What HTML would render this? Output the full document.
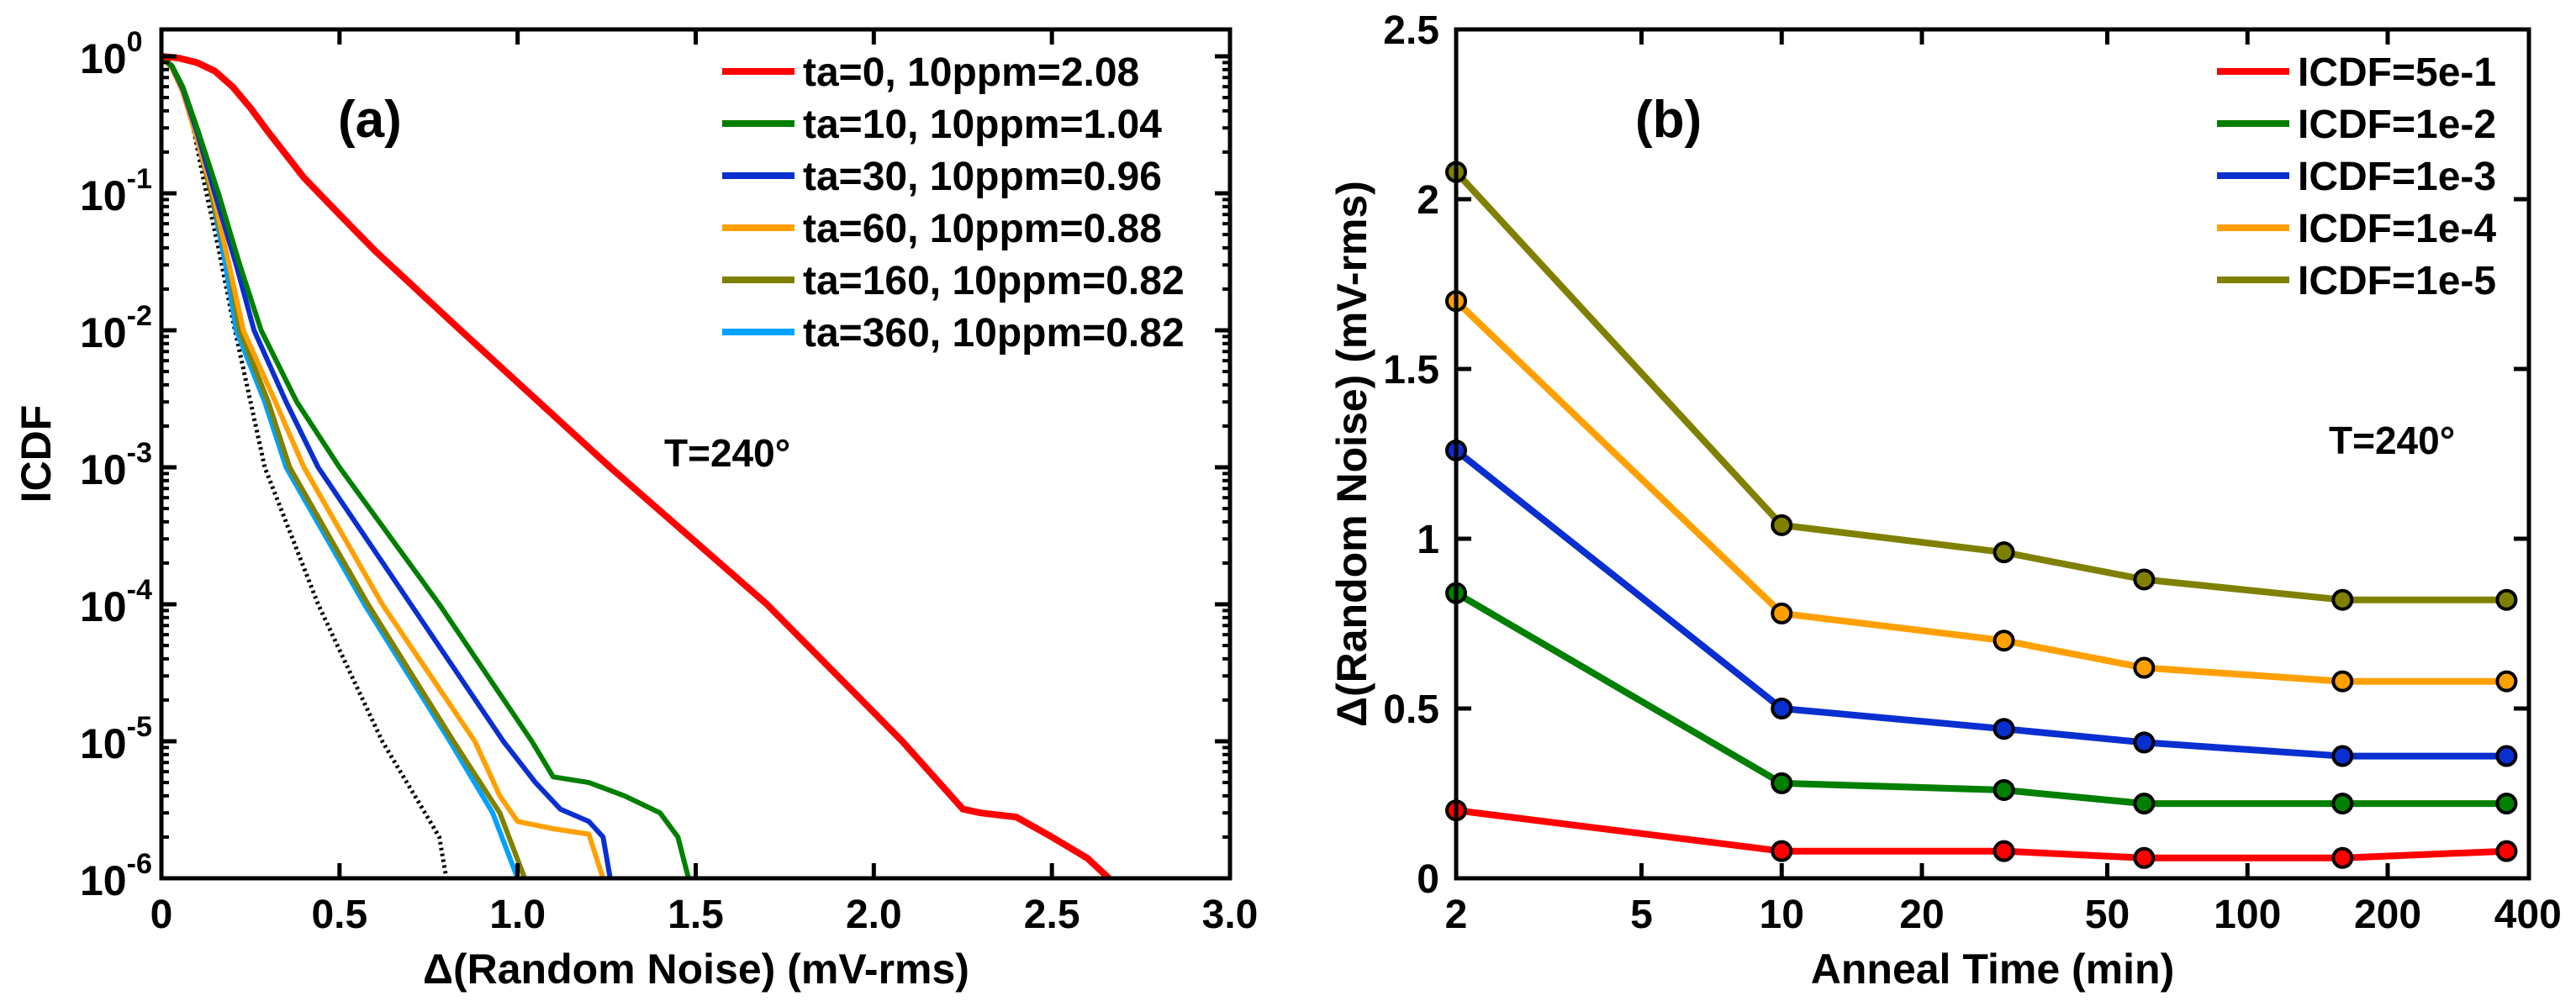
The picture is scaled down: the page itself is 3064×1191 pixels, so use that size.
<!DOCTYPE html>
<html><head><meta charset="utf-8">
<style>
html,body{margin:0;padding:0;background:#fff;}
svg{display:block;font-family:"Liberation Sans",Arial,sans-serif;font-weight:bold;}
</style></head>
<body>
<svg id="fig" width="3064" height="1191" viewBox="0 0 3064 1191" xmlns="http://www.w3.org/2000/svg"></svg>
<script>
// ---------- Panel (a) data ----------
const aLabels = ["ta=0, 10ppm=2.08","ta=10, 10ppm=1.04","ta=30, 10ppm=0.96","ta=60, 10ppm=0.88","ta=160, 10ppm=0.82","ta=360, 10ppm=0.82"];
const aColors = ["#ff0000","#007f00","#0a2fd0","#ffa000","#808000","#00a2ff"];
const curveTa0 = [[0,1],[0.05,0.97],[0.1,0.9],[0.15,0.78],[0.2,0.6],[0.25,0.42],[0.3,0.28],[0.4,0.13],[0.5,0.07],[0.6,0.038],[0.84,0.01],[1.26,1e-3],[1.7,1e-4],[2.08,1e-5],[2.25,3.2e-6],[2.3,3e-6],[2.4,2.8e-6],[2.5,2e-6],[2.6,1.4e-6],[2.66,1e-6]];
const curveTa10 = [[0,1],[0.03,0.85],[0.06,0.6],[0.1,0.3],[0.16,0.1],[0.22,0.03],[0.28,0.01],[0.38,0.003],[0.5,1e-3],[0.78,1e-4],[1.04,1e-5],[1.1,5.5e-6],[1.2,5e-6],[1.3,4e-6],[1.4,3e-6],[1.45,2e-6],[1.48,1e-6]];
const curveTa30 = [[0,1],[0.03,0.84],[0.06,0.58],[0.1,0.28],[0.15,0.1],[0.21,0.03],[0.26,0.01],[0.35,0.003],[0.44,1e-3],[0.70,1e-4],[0.96,1e-5],[1.05,5e-6],[1.12,3.2e-6],[1.2,2.6e-6],[1.24,2e-6],[1.26,1e-6]];
const curveTa60 = [[0,1],[0.03,0.82],[0.06,0.55],[0.1,0.25],[0.145,0.1],[0.19,0.03],[0.23,0.01],[0.32,0.003],[0.40,1e-3],[0.62,1e-4],[0.88,1e-5],[0.95,4e-6],[1.0,2.6e-6],[1.1,2.3e-6],[1.2,2.1e-6],[1.24,1e-6]];
const curveTa160 = [[0,1],[0.03,0.82],[0.06,0.55],[0.1,0.25],[0.14,0.1],[0.19,0.03],[0.22,0.01],[0.3,0.003],[0.36,1e-3],[0.58,1e-4],[0.82,1e-5],[0.95,3e-6],[1.02,1e-6]];
const curveTa360 = [[0,1],[0.03,0.82],[0.06,0.55],[0.1,0.25],[0.14,0.1],[0.18,0.03],[0.21,0.01],[0.29,0.003],[0.35,1e-3],[0.57,1e-4],[0.81,1e-5],[0.93,3e-6],[1.0,1e-6]];
const curveRef = [[0,1],[0.04,0.75],[0.08,0.4],[0.12,0.12],[0.16,0.04],[0.2,0.012],[0.29,1e-3],[0.44,1e-4],[0.62,1e-5],[0.74,3e-6],[0.78,2e-6],[0.8,1e-6]];
const aXTicks = [0,0.5,1.0,1.5,2.0,2.5,3.0];
const aXTickLabels = ["0","0.5","1.0","1.5","2.0","2.5","3.0"];
const aYExps = [0,-1,-2,-3,-4,-5,-6];

// ---------- Panel (b) data ----------
const bTimes = [2,10,30,60,160,360];
const bLabels = ["ICDF=5e-1","ICDF=1e-2","ICDF=1e-3","ICDF=1e-4","ICDF=1e-5"];
const bColors = ["#ff0000","#007f00","#0a2fd0","#ffa000","#808000"];
const s5e1 = [0.20,0.08,0.08,0.06,0.06,0.08];
const s1e2 = [0.84,0.28,0.26,0.22,0.22,0.22];
const s1e3 = [1.26,0.50,0.44,0.40,0.36,0.36];
const s1e4 = [1.70,0.78,0.70,0.62,0.58,0.58];
const s1e5 = [2.08,1.04,0.96,0.88,0.82,0.82];
const bXTicks = [2,5,10,20,50,100,200,400];
const bYTicks = [0,0.5,1,1.5,2,2.5];
const bYTickLabels = ["0","0.5","1","1.5","2","2.5"];

const NS="http://www.w3.org/2000/svg";
const svg=document.getElementById('fig');
function mk(tag,attrs,parent){const e=document.createElementNS(NS,tag);for(const k in attrs)e.setAttribute(k,attrs[k]);(parent||svg).appendChild(e);return e;}

// ----- Panel (a) axes -----
const AL=192,AR=1463,AT=35,AB=1045;
const Y0=67, DEC=163;
function ax(v){return AL+(v/3.0)*(AR-AL);}
function ay(p){return Y0-Math.log10(p)*DEC;}
const gA=mk('g',{});


mk('clipPath',{id:'clipA'},gA);
mk('rect',{x:AL,y:AT,width:AR-AL,height:AB-AT},gA.lastChild);
const curves=[curveTa0,curveTa10,curveTa30,curveTa60,curveTa160,curveTa360];
const curveNames=['curve-ta0','curve-ta10','curve-ta30','curve-ta60','curve-ta160','curve-ta360'];
{
 const d=curveRef.map((p,i)=>(i?'L':'M')+ax(p[0]).toFixed(1)+','+ay(p[1]).toFixed(1)).join('');
 const el=mk('path',{d:d,fill:'none',stroke:'#000','stroke-width':5,'stroke-dasharray':'3,4','clip-path':'url(#clipA)'},gA);
 
 
}
for(let s=curves.length-1;s>=0;s--){
 const d=curves[s].map((p,i)=>(i?'L':'M')+ax(p[0]).toFixed(1)+','+ay(p[1]).toFixed(1)).join('');
 const el=mk('path',{d:d,fill:'none',stroke:aColors[s],'stroke-width':s==0?8:6,'stroke-linejoin':'round','clip-path':'url(#clipA)'},gA);
 
 
}
{const fr=mk('rect',{x:AL,y:AT,width:AR-AL,height:AB-AT,fill:'none',stroke:'#000','stroke-width':5},gA);

}
aXTicks.forEach((v,i)=>{
 const x=ax(v);
 mk('line',{x1:x,y1:AB,x2:x,y2:AB-18,stroke:'#000','stroke-width':5},gA);
 mk('line',{x1:x,y1:AT,x2:x,y2:AT+18,stroke:'#000','stroke-width':5},gA);
 const t=mk('text',{x:x,y:1104,'font-size':48,'text-anchor':'middle'},gA);
 t.textContent=aXTickLabels[i];
 
 
});
aYExps.forEach(e=>{
 const y=ay(Math.pow(10,e));
 mk('line',{x1:AL,y1:y,x2:AL+18,y2:y,stroke:'#000','stroke-width':5},gA);
 mk('line',{x1:AR,y1:y,x2:AR-18,y2:y,stroke:'#000','stroke-width':5},gA);
 if(e>-6){for(let m=2;m<=9;m++){const ym=ay(m*Math.pow(10,e-1));
  mk('line',{x1:AL,y1:ym,x2:AL+9,y2:ym,stroke:'#000','stroke-width':4},gA);
  mk('line',{x1:AR,y1:ym,x2:AR-9,y2:ym,stroke:'#000','stroke-width':4},gA);}}
 if(e==0){for(let m=2;m<=9;m++){const ym=ay(m);if(ym>AT){mk('line',{x1:AL,y1:ym,x2:AL+9,y2:ym,stroke:'#000','stroke-width':4},gA);}}}
 const t=mk('text',{x:95,y:y+20,'font-size':50},gA);
 
 
 t.appendChild(document.createTextNode('10'));
 const sp=mk('tspan',{dy:-26,'font-size':34},t);
 sp.textContent=String(e);
});
{const t=mk('text',{x:0,y:0,'font-size':50,'text-anchor':'middle',transform:'translate(60,540) rotate(-90)'},gA);
t.textContent='ICDF';

}
{const t=mk('text',{x:828,y:1170,'font-size':50,'text-anchor':'middle'},gA);
t.textContent='\u0394(Random Noise) (mV-rms)';

}
{const t=mk('text',{x:402,y:163,'font-size':62},gA);
t.textContent='(a)';

}
{const t=mk('text',{x:790,y:555,'font-size':46},gA);
t.textContent='T=240\u00b0';

}
aLabels.forEach((lab,i)=>{
 const y=85+i*62;
 const g=mk('g',{},gA);
 
 
 mk('line',{x1:859,y1:y,x2:945,y2:y,stroke:aColors[i],'stroke-width':8},g);
 const t=mk('text',{x:955,y:y+17,'font-size':48},g);
 t.textContent=lab;
});

// ----- Panel (b) -----
const BL=1732,BR=3008,BT=35,BB=1045;
const DECB=554;
function bx(t){return BL+Math.log10(t/2)*DECB;}
function by(v){return BB-v*404;}
const gB=mk('g',{});


const series=[s5e1,s1e2,s1e3,s1e4,s1e5];
const seriesNames=['series-5e-1','series-1e-2','series-1e-3','series-1e-4','series-1e-5'];
series.forEach((vals,s)=>{
 const d=vals.map((v,i)=>(i?'L':'M')+bx(bTimes[i]).toFixed(1)+','+by(v).toFixed(1)).join('');
 const el=mk('path',{d:d,fill:'none',stroke:bColors[s],'stroke-width':8,'stroke-linejoin':'round'},gB);
 
 
});
series.forEach((vals,s)=>{
 vals.forEach((v,i)=>{
  const c=mk('circle',{cx:bx(bTimes[i]),cy:by(v),r:11,fill:bColors[s],stroke:'#000','stroke-width':4},gB);
  
  
 });
});
{const fr=mk('rect',{x:BL,y:BT,width:BR-BL,height:BB-BT,fill:'none',stroke:'#000','stroke-width':5},gB);

}
bXTicks.forEach(v=>{
 const x=bx(v);
 if(v!=2&&v!=400){
 mk('line',{x1:x,y1:BB,x2:x,y2:BB-18,stroke:'#000','stroke-width':5},gB);
 mk('line',{x1:x,y1:BT,x2:x,y2:BT+18,stroke:'#000','stroke-width':5},gB);}
 const t=mk('text',{x:x,y:1104,'font-size':48,'text-anchor':'middle'},gB);
 t.textContent=String(v);
 
 
});
bYTicks.forEach((v,i)=>{
 const y=by(v);
 mk('line',{x1:BL,y1:y,x2:BL+18,y2:y,stroke:'#000','stroke-width':5},gB);
 mk('line',{x1:BR,y1:y,x2:BR-18,y2:y,stroke:'#000','stroke-width':5},gB);
 const t=mk('text',{x:1712,y:y+17,'font-size':48,'text-anchor':'end'},gB);
 t.textContent=bYTickLabels[i];
 
 
});
{const t=mk('text',{x:0,y:0,'font-size':50,'text-anchor':'middle',transform:'translate(1625,540) rotate(-90)'},gB);
t.textContent='\u0394(Random Noise) (mV-rms)';

}
{const t=mk('text',{x:2370,y:1170,'font-size':50,'text-anchor':'middle'},gB);
t.textContent='Anneal Time (min)';

}
{const t=mk('text',{x:1945,y:163,'font-size':62},gB);
t.textContent='(b)';

}
{const t=mk('text',{x:2770,y:540,'font-size':46},gB);
t.textContent='T=240\u00b0';

}
bLabels.forEach((lab,i)=>{
 const y=85+i*62;
 const g=mk('g',{},gB);
 
 
 mk('line',{x1:2637,y1:y,x2:2723,y2:y,stroke:bColors[i],'stroke-width':8},g);
 const t=mk('text',{x:2733,y:y+17,'font-size':48},g);
 t.textContent=lab;
});
</script>
</body></html>
